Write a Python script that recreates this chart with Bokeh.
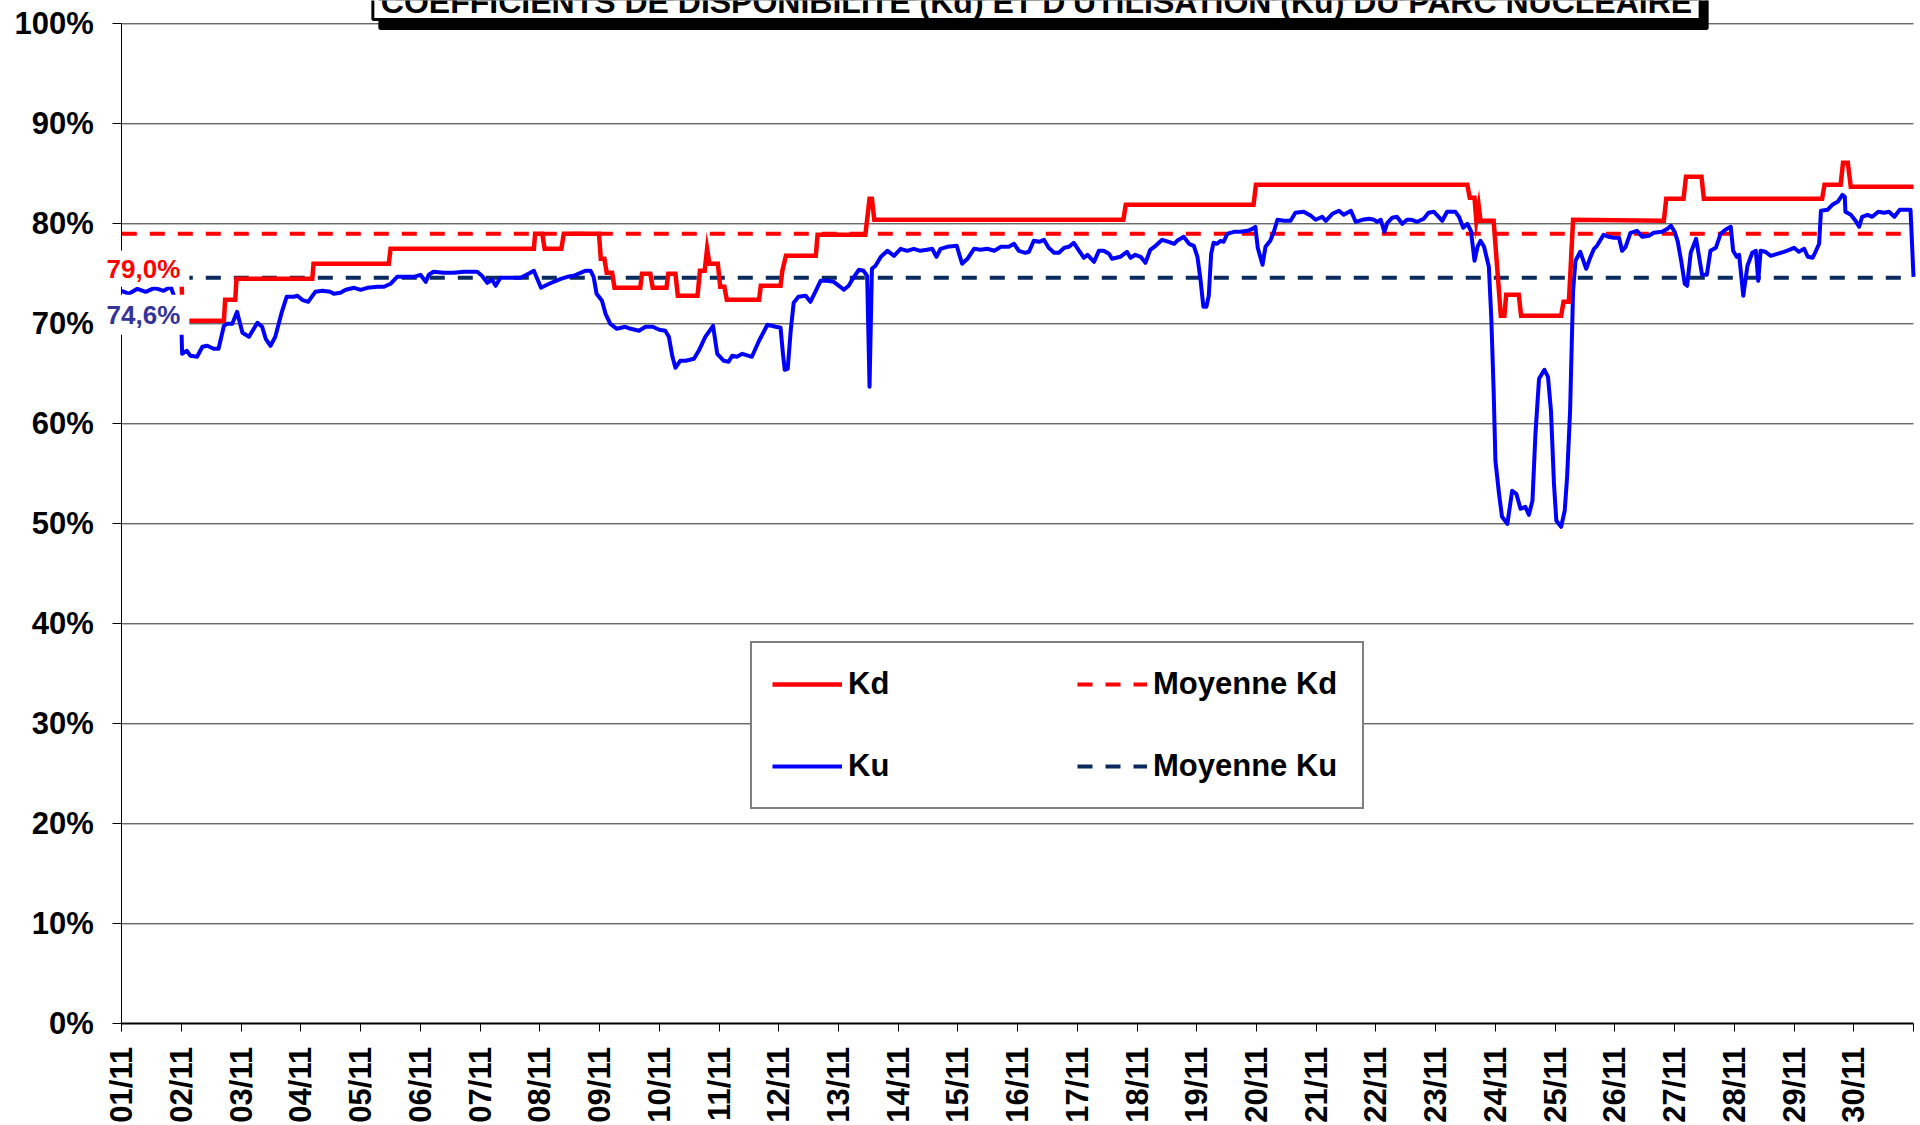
from math import pi
from bokeh.plotting import figure
from bokeh.models import Range1d, FixedTicker, Label, Legend, LegendItem, LinearAxis
from bokeh.embed import file_html
from bokeh.resources import INLINE

# ---------------- data ----------------
kd_day = [0.00, 1.00, 1.02, 1.71, 1.73, 1.90, 1.92, 3.19, 3.21, 4.47, 4.50, 6.90, 6.92, 7.04,
          7.08, 7.36, 7.40, 7.99, 8.02, 8.08, 8.12, 8.21, 8.25, 8.68, 8.71, 8.85, 8.89, 9.12,
          9.15, 9.27, 9.31, 9.64, 9.68, 9.76, 9.80, 9.84, 9.87, 9.98, 10.02, 10.09, 10.13,
          10.67, 10.70, 11.03, 11.06, 11.12, 11.15, 11.62, 11.65, 12.45, 12.52, 12.56, 12.60,
          16.77, 16.81, 18.95, 18.99, 22.53, 22.57, 22.65, 22.68, 22.72, 22.75, 22.97, 23.09,
          23.15, 23.18, 23.39, 23.43, 24.10, 24.14, 24.23, 24.30, 25.82, 25.86, 26.15, 26.19,
          26.45, 26.49, 28.47, 28.51, 28.78, 28.82, 28.90, 28.95, 30.00]
kd_val = [74.5, 74.5, 70.3, 70.3, 72.4, 72.4, 74.5, 74.5, 76.0, 76.0, 77.5, 77.5, 79.0, 79.0,
          77.5, 77.5, 79.0, 79.0, 76.5, 76.5, 75.1, 75.1, 73.6, 73.6, 75.0, 75.0, 73.6, 73.6,
          75.0, 75.0, 72.8, 72.8, 75.3, 75.3, 77.5, 76.0, 76.0, 76.0, 73.7, 73.7, 72.4,
          72.4, 73.8, 73.8, 75.3, 76.8, 76.8, 76.8, 78.9, 78.9, 82.5, 82.5, 80.4,
          80.4, 81.9, 81.9, 83.9, 83.9, 82.6, 82.6, 80.3, 81.8, 80.3, 80.3, 70.8,
          70.8, 72.9, 72.9, 70.8, 70.8, 72.2, 72.2, 80.4, 80.3, 82.5, 82.5, 84.7,
          84.7, 82.5, 82.5, 83.9, 83.9, 86.1, 86.1, 83.7, 83.7]

ku_day = [0.00, 0.12, 0.26, 0.40, 0.55, 0.70, 0.82, 0.92, 1.00, 1.01, 1.09, 1.15, 1.26, 1.35,
          1.43, 1.54, 1.62, 1.71, 1.76, 1.85, 1.93, 2.02, 2.13, 2.27, 2.35, 2.41, 2.49, 2.57,
          2.68, 2.76, 2.88, 2.94, 3.02, 3.12, 3.24, 3.36, 3.49, 3.55, 3.66, 3.75, 3.89, 4.00,
          4.11, 4.28, 4.39, 4.50, 4.61, 4.75, 4.89, 5.00, 5.09, 5.14, 5.22, 5.39, 5.56, 5.73,
          5.95, 6.03, 6.12, 6.20, 6.26, 6.34, 6.51, 6.68, 6.84, 6.90, 6.97, 7.02, 7.12, 7.23,
          7.35, 7.46, 7.57, 7.68, 7.76, 7.85, 7.90, 7.95, 8.04, 8.10, 8.18, 8.29, 8.43, 8.52,
          8.66, 8.77, 8.89, 9.00, 9.10, 9.16, 9.22, 9.27, 9.35, 9.44, 9.58, 9.66, 9.77, 9.90,
          9.97, 10.08, 10.16, 10.22, 10.30, 10.39, 10.55, 10.67, 10.81, 10.95, 11.03, 11.07,
          11.10, 11.15, 11.20, 11.25, 11.33, 11.45, 11.53, 11.62, 11.70, 11.81, 11.92, 12.03,
          12.09, 12.17, 12.26, 12.34, 12.42, 12.48, 12.52, 12.56, 12.62, 12.71, 12.82, 12.93,
          13.04, 13.15, 13.26, 13.37, 13.48, 13.57, 13.64, 13.71, 13.82, 13.98, 14.07, 14.16,
          14.27, 14.38, 14.49, 14.61, 14.72, 14.85, 14.94, 15.02, 15.13, 15.19, 15.27, 15.36,
          15.44, 15.52, 15.61, 15.69, 15.78, 15.86, 15.94, 16.03, 16.11, 16.17, 16.28, 16.36,
          16.44, 16.53, 16.58, 16.72, 16.83, 16.89, 16.97, 17.06, 17.14, 17.22, 17.31, 17.42,
          17.53, 17.62, 17.67, 17.78, 17.87, 17.95, 18.01, 18.06, 18.11, 18.16, 18.20, 18.24,
          18.28, 18.34, 18.40, 18.45, 18.51, 18.62, 18.73, 18.85, 18.93, 18.98, 19.02, 19.10,
          19.15, 19.23, 19.29, 19.35, 19.46, 19.57, 19.65, 19.79, 19.91, 19.99, 20.10, 20.16,
          20.27, 20.38, 20.46, 20.58, 20.66, 20.77, 20.88, 20.97, 21.02, 21.08, 21.14, 21.19,
          21.27, 21.35, 21.44, 21.52, 21.60, 21.69, 21.80, 21.88, 21.97, 22.05, 22.11, 22.19,
          22.33, 22.39, 22.46, 22.53, 22.59, 22.65, 22.70, 22.75, 22.81, 22.89, 22.93, 22.97,
          23.00, 23.06, 23.11, 23.20, 23.28, 23.35, 23.42, 23.50, 23.56, 23.62, 23.67, 23.73,
          23.82, 23.88, 23.93, 23.98, 24.02, 24.10, 24.16, 24.20, 24.25, 24.30, 24.34, 24.42,
          24.52, 24.58, 24.65, 24.70, 24.81, 24.90, 24.98, 25.07, 25.12, 25.18, 25.26, 25.37,
          25.46, 25.57, 25.65, 25.79, 25.88, 25.94, 26.00, 26.05, 26.11, 26.17, 26.21, 26.27,
          26.36, 26.41, 26.46, 26.54, 26.60, 26.69, 26.77, 26.85, 26.94, 26.98, 27.04, 27.08,
          27.15, 27.22, 27.30, 27.36, 27.40, 27.44, 27.52, 27.61, 27.72, 27.83, 27.92, 28.00,
          28.08, 28.17, 28.23, 28.31, 28.36, 28.42, 28.45, 28.56, 28.64, 28.73, 28.81, 28.85,
          28.86, 28.95, 29.03, 29.09, 29.14, 29.23, 29.31, 29.41, 29.51, 29.59, 29.68, 29.77,
          29.87, 29.95, 30.00]
ku_val = [73.3, 73.0, 73.5, 73.2, 73.6, 73.3, 73.7, 72.0, 69.2, 67.0, 67.3, 66.8, 66.7, 67.7,
          67.8, 67.5, 67.5, 69.8, 70.0, 70.0, 71.2, 69.1, 68.7, 70.1, 69.7, 68.5, 67.8, 68.7,
          71.2, 72.7, 72.7, 72.8, 72.4, 72.2, 73.2, 73.3, 73.2, 73.0, 73.1, 73.4, 73.6, 73.4,
          73.6, 73.7, 73.7, 74.0, 74.7, 74.7, 74.7, 74.9, 74.2, 74.9, 75.2, 75.1, 75.1, 75.2,
          75.2, 74.8, 74.1, 74.4, 73.8, 74.6, 74.6, 74.6, 75.1, 75.3, 74.3, 73.6, 73.9, 74.2,
          74.5, 74.7, 74.8, 75.1, 75.3, 75.3, 74.7, 73.0, 72.3, 71.0, 70.0, 69.5, 69.7, 69.5,
          69.3, 69.7, 69.7, 69.4, 69.3, 68.7, 66.7, 65.6, 66.3, 66.3, 66.5, 67.3, 68.7, 69.8,
          67.0, 66.3, 66.2, 66.8, 66.7, 67.0, 66.7, 68.3, 69.9, 69.7, 69.6, 67.0,
          65.4, 65.5, 69.3, 72.1, 72.7, 72.8, 72.2, 73.3, 74.3, 74.3, 74.2, 73.7,
          73.4, 73.8, 74.7, 75.4, 75.3, 74.8, 63.7, 75.5, 75.8, 76.7, 77.3, 76.8,
          77.5, 77.3, 77.5, 77.3, 77.4, 77.5, 76.7, 77.5, 77.7, 77.8, 76.0, 76.5,
          77.5, 77.4, 77.5, 77.3, 77.7, 77.7, 78.0, 77.3, 77.1, 77.2, 78.3, 78.2,
          78.4, 77.6, 77.1, 77.1, 77.6, 77.7, 78.1, 77.3, 76.6, 76.9, 76.2, 77.3,
          77.3, 77.0, 76.5, 76.7, 77.2, 76.6, 76.9, 76.7, 76.1, 77.4, 77.8, 78.4,
          78.2, 78.0, 78.3, 78.7, 78.0, 77.8, 76.7, 74.5, 71.7, 71.7, 72.8, 77.0,
          78.1, 78.0, 78.3, 78.2, 79.0, 79.2, 79.2, 79.3, 79.5, 79.7, 77.6, 75.9,
          77.7, 78.3, 79.2, 80.4, 80.3, 80.3, 81.1, 81.2, 80.8, 80.4, 80.7, 80.3,
          81.0, 81.3, 80.9, 81.3, 80.2, 80.4, 80.5, 80.4, 80.2, 80.4, 79.2, 80.1,
          80.6, 80.7, 80.0, 80.4, 80.4, 80.2, 80.5, 81.1, 81.2, 80.7, 80.3, 81.2,
          81.2, 80.7, 79.6, 80.0, 79.3, 76.3, 77.7, 78.3, 77.7, 75.7, 70.7, 63.3,
          56.3, 53.0, 50.7, 50.0, 53.3, 53.0, 51.5, 51.7, 50.9, 52.3, 59.0, 64.5,
          65.4, 64.7, 61.3, 54.0, 50.3, 49.7, 51.3, 54.7, 61.3, 73.3, 76.3, 77.2,
          75.5, 76.5, 77.5, 77.8, 78.9, 78.7, 78.6, 78.6, 77.3, 77.7, 79.1, 79.3,
          78.7, 78.8, 79.1, 79.2, 79.5, 79.8, 79.2, 78.3, 76.3, 74.0, 73.8, 77.1,
          78.5, 76.7, 74.9, 74.9, 77.3, 77.6, 79.0, 79.4, 79.7, 77.3, 76.7, 76.9,
          72.8, 75.8, 77.1, 77.3, 74.3, 77.3, 77.2, 76.8, 77.0, 77.2, 77.4, 77.6,
          77.2, 77.5, 76.7, 76.6, 77.2, 78.0, 81.3, 81.4, 81.9, 82.2, 82.9, 82.7,
          81.2, 80.9, 80.3, 79.7, 80.7, 80.9, 80.7, 81.2, 81.1, 81.2, 80.7, 81.4,
          81.4, 81.4, 74.7]

kd_mean = 79.0
ku_mean = 74.6
day_labels = ["%02d/11" % d for d in range(1, 31)]
y_ticks = [0, 10, 20, 30, 40, 50, 60, 70, 80, 90, 100]
title_text = "COEFFICIENTS DE DISPONIBILITÉ (Kd) ET D'UTILISATION (Ku) DU PARC NUCLÉAIRE"

# ---------------- layout / styling ----------------
FONT = "Liberation Sans"
RED = "#FF0000"
BLUE = "#0000FF"
NAVY = "#0B2A5E"
W, H = 1920, 1125
n_days = len(day_labels)
PX_DAY = (1913.0 - 121.3) / n_days     # horizontal pixels per day
PX_PCT = 10.0                           # vertical pixels per percent
X0 = -121.3 / PX_DAY
X1 = X0 + W / PX_DAY
Y1 = 100 + 23.3 / PX_PCT
Y0 = Y1 - H / PX_PCT

p = figure(width=W, height=H, x_range=Range1d(X0, X1), y_range=Range1d(Y0, Y1),
           output_backend="svg", toolbar_location=None,
           x_axis_location=None, y_axis_location=None,
           min_border=0, min_border_left=0, min_border_right=0,
           min_border_top=0, min_border_bottom=0)
p.outline_line_color = None
p.background_fill_color = "white"
p.border_fill_color = "white"
p.grid.visible = False

# horizontal gridlines (from the tick list)
grid_levels = [t for t in y_ticks if t > 0]
p.segment(x0=[0] * len(grid_levels), x1=[n_days] * len(grid_levels),
          y0=grid_levels, y1=grid_levels, line_color="#2b2b2b", line_width=1)

# axes
yax = LinearAxis(fixed_location=0, bounds=(0, 100), ticker=FixedTicker(ticks=y_ticks),
                 major_label_overrides={t: "%d%%" % t for t in y_ticks},
                 major_label_text_font=FONT, major_label_text_font_style="bold",
                 major_label_text_font_size="31px", major_label_text_color="black",
                 major_label_standoff=19, major_tick_in=0, major_tick_out=9,
                 major_tick_line_color="black", minor_tick_line_color=None,
                 axis_line_color="black", axis_line_width=1)
p.add_layout(yax, "left")

x_over = {i: lab for i, lab in enumerate(day_labels)}
x_over[n_days] = ""
xax = LinearAxis(fixed_location=0, bounds=(0, n_days),
                 ticker=FixedTicker(ticks=list(range(0, n_days + 1))),
                 major_label_overrides=x_over, major_label_orientation=pi / 2,
                 major_label_text_font=FONT, major_label_text_font_style="bold",
                 major_label_text_font_size="31px", major_label_text_color="black",
                 major_label_standoff=15, major_tick_in=0, major_tick_out=8,
                 major_tick_line_color="black", minor_tick_line_color=None,
                 axis_line_color="black", axis_line_width=2)
p.add_layout(xax, "below")

# series
r_kdm = p.line([0, n_days], [kd_mean, kd_mean], line_color=RED, line_width=4, line_dash="15 13")
r_kum = p.line([0, n_days], [ku_mean, ku_mean], line_color=NAVY, line_width=4, line_dash="15 13")
r_ku = p.line(ku_day, ku_val, line_color=BLUE, line_width=4, line_join="round")
r_kd = p.line(kd_day, kd_val, line_color=RED, line_width=4.5, line_join="miter")

# mean value labels
p.add_layout(Label(x=0.363, y=75.5, text=("%.1f%%" % kd_mean).replace(".", ","),
                   text_align="center", text_baseline="middle", text_font=FONT,
                   text_font_style="bold", text_font_size="26px", text_color=RED,
                   background_fill_color="white",
                   padding=dict(left=9, right=9, top=3, bottom=3)))
p.add_layout(Label(x=0.363, y=70.9, text=("%.1f%%" % ku_mean).replace(".", ","),
                   text_align="center", text_baseline="middle", text_font=FONT,
                   text_font_style="bold", text_font_size="26px", text_color="#333399",
                   background_fill_color="white",
                   padding=dict(left=9, right=9, top=5, bottom=5)))

# title box with shadow (its top is cut by the page edge, as in the reference)
title_kw = dict(x=(1036.0 - 121.3) / PX_DAY, y=Y1 + 0.1, text=title_text,
                text_align="center", text_baseline="alphabetic", text_font=FONT,
                text_font_style="bold", text_font_size="32px",
                padding=dict(left=8, right=8, top=4, bottom=0))
p.add_layout(Label(x_offset=7, y_offset=-9, text_color="black", background_fill_color="black",
                   border_line_color="black", border_line_width=3, **title_kw))
p.add_layout(Label(text_color="black", background_fill_color="white",
                   border_line_color="black", border_line_width=3, **title_kw))

legend = Legend(items=[LegendItem(label="Kd", renderers=[r_kd]),
                       LegendItem(label="Moyenne Kd", renderers=[r_kdm]),
                       LegendItem(label="Ku", renderers=[r_ku]),
                       LegendItem(label="Moyenne Ku", renderers=[r_kum])],
                location=(750, H - 809), orientation="horizontal", nrows=2,
                glyph_width=70, glyph_height=20, label_standoff=6,
                label_width=189, label_height=42, spacing=40, padding=20, margin=0,
                label_text_font=FONT, label_text_font_style="bold",
                label_text_font_size="31px", label_text_color="black",
                border_line_color="black", border_line_width=2,
                background_fill_color="white", background_fill_alpha=1.0)
p.add_layout(legend)

open("out.html", "w").write(file_html(p, INLINE))
